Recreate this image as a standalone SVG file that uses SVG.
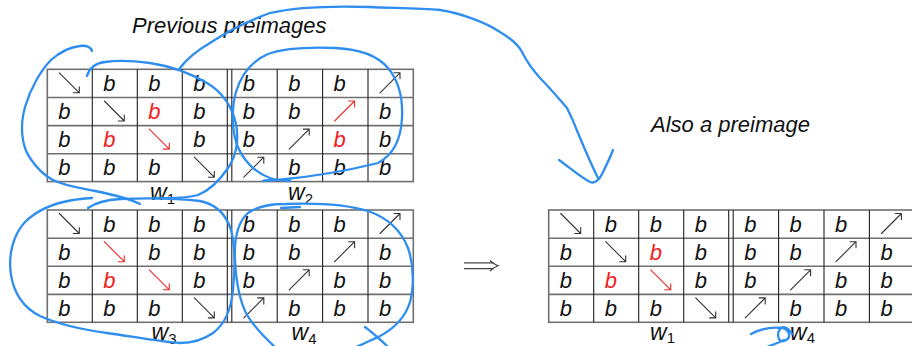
<svg xmlns="http://www.w3.org/2000/svg" width="912" height="346" viewBox="0 0 912 346">
  <style>
    .txt { font-family: "Liberation Sans", Arial, sans-serif; font-style: italic; fill: #111; }
    .title { font-size: 22px; }
    .b { font-family: "Liberation Sans", Arial, sans-serif; font-style: italic; font-size: 22px; fill: #111; }
    .b.red { fill: #f21c1c; }
    .lbl { font-family: "Liberation Sans", Arial, sans-serif; font-style: italic; font-size: 23px; fill: #111; }
    .sub { font-size: 15px; font-style: normal; }
    .ar { fill: none; stroke: #333; stroke-width: 1.1; stroke-linecap: round; }
    .ar.red { stroke: #f22a2a; }
    .hline { stroke: #707070; stroke-width: 1.6; }
    .vline { stroke: #222; stroke-width: 1.1; }
    .border { fill: #fff; stroke: #707070; stroke-width: 1.6; }
    .ink { fill: none; stroke: #2e8ef0; stroke-width: 2.3; stroke-linecap: round; stroke-linejoin: round; }
    .implies { fill: none; stroke: #444; stroke-width: 1.2; }
  </style>
  <defs>
    <!-- 4x8 table frame with a double rule between the two words -->
    <g id="frame">
      <rect class="border" x="0" y="0" width="366" height="112.3"/>
      <path class="hline" d="M0,28.2 H366 M0,56.3 H366 M0,84.4 H366"/>
      <path class="vline" d="M45,0 V112.3 M90,0 V112.3 M135,0 V112.3 M180,0 V112.3 M184.5,0 V112.3 M229.9,0 V112.3 M275.3,0 V112.3 M320.7,0 V112.3"/>
    </g>
    <path id="se" d="M0,0 L20,20 M14,20 L20,20 L20,14"/>
    <path id="ne" d="M0,20 L20,0 M14,0 L20,0 L20,6"/>
  </defs>

  <rect width="912" height="346" fill="#fff"/>

  <text class="txt title" x="132" y="33">Previous preimages</text>
  <text class="txt title" x="651" y="132">Also a preimage</text>

  <!-- table: w1 | w2 -->
  <g id="table-w1-w2" transform="translate(47.3,69.3)">
    <use href="#frame"/>
    <use href="#se" class="ar" x="12" y="3.5"/>
    <text class="b" x="56" y="21.5">b</text><text class="b" x="101" y="21.5">b</text><text class="b" x="146" y="21.5">b</text>
    <text class="b" x="195.5" y="21.5">b</text><text class="b" x="240.9" y="21.5">b</text><text class="b" x="286.3" y="21.5">b</text>
    <use href="#ne" class="ar" x="332.7" y="3.5"/>

    <text class="b" x="11" y="49.7">b</text>
    <use href="#se" class="ar" x="57" y="31.7"/>
    <text class="b red" x="101" y="49.7">b</text><text class="b" x="146" y="49.7">b</text>
    <text class="b" x="195.5" y="49.7">b</text><text class="b" x="240.9" y="49.7">b</text>
    <use href="#ne" class="ar red" x="287.3" y="31.7"/>
    <text class="b" x="331.7" y="49.7">b</text>

    <text class="b" x="11" y="77.8">b</text><text class="b red" x="56" y="77.8">b</text>
    <use href="#se" class="ar red" x="102" y="59.8"/>
    <text class="b" x="146" y="77.8">b</text>
    <text class="b" x="195.5" y="77.8">b</text>
    <use href="#ne" class="ar" x="241.9" y="59.8"/>
    <text class="b red" x="286.3" y="77.8">b</text><text class="b" x="331.7" y="77.8">b</text>

    <text class="b" x="11" y="105.9">b</text><text class="b" x="56" y="105.9">b</text><text class="b" x="101" y="105.9">b</text>
    <use href="#se" class="ar" x="147" y="87.9"/>
    <use href="#ne" class="ar" x="196.5" y="87.9"/>
    <text class="b" x="240.9" y="105.9">b</text><text class="b" x="286.3" y="105.9">b</text><text class="b" x="331.7" y="105.9">b</text>
  </g>
  <g id="labels-w1-w2">
    <text class="lbl" x="150" y="199.5">w<tspan class="sub" dy="4">1</tspan></text>
    <text class="lbl" x="288" y="199.5">w<tspan class="sub" dy="4">2</tspan></text>
  </g>

  <!-- table: w3 | w4 -->
  <g id="table-w3-w4" transform="translate(47.3,210)">
    <use href="#frame"/>
    <use href="#se" class="ar" x="12" y="3.5"/>
    <text class="b" x="56" y="21.5">b</text><text class="b" x="101" y="21.5">b</text><text class="b" x="146" y="21.5">b</text>
    <text class="b" x="195.5" y="21.5">b</text><text class="b" x="240.9" y="21.5">b</text><text class="b" x="286.3" y="21.5">b</text>
    <use href="#ne" class="ar" x="332.7" y="3.5"/>

    <text class="b" x="11" y="49.7">b</text>
    <use href="#se" class="ar red" x="57" y="31.7"/>
    <text class="b" x="101" y="49.7">b</text><text class="b" x="146" y="49.7">b</text>
    <text class="b" x="195.5" y="49.7">b</text><text class="b" x="240.9" y="49.7">b</text>
    <use href="#ne" class="ar" x="287.3" y="31.7"/>
    <text class="b" x="331.7" y="49.7">b</text>

    <text class="b" x="11" y="77.8">b</text><text class="b red" x="56" y="77.8">b</text>
    <use href="#se" class="ar red" x="102" y="59.8"/>
    <text class="b" x="146" y="77.8">b</text>
    <text class="b" x="195.5" y="77.8">b</text>
    <use href="#ne" class="ar" x="241.9" y="59.8"/>
    <text class="b" x="286.3" y="77.8">b</text><text class="b" x="331.7" y="77.8">b</text>

    <text class="b" x="11" y="105.9">b</text><text class="b" x="56" y="105.9">b</text><text class="b" x="101" y="105.9">b</text>
    <use href="#se" class="ar" x="147" y="87.9"/>
    <use href="#ne" class="ar" x="196.5" y="87.9"/>
    <text class="b" x="240.9" y="105.9">b</text><text class="b" x="286.3" y="105.9">b</text><text class="b" x="331.7" y="105.9">b</text>
  </g>
  <g id="labels-w3-w4">
    <text class="lbl" x="151.5" y="340">w<tspan class="sub" dy="3.5">3</tspan></text>
    <text class="lbl" x="291.5" y="340">w<tspan class="sub" dy="3.5">4</tspan></text>
  </g>

  <!-- implication sign -->
  <g id="implies">
    <path class="implies" d="M464,262.8 H494 M464,268.6 H494 M490,260.5 Q494,264.5 498,265.7 Q494,267 490,271"/>
  </g>

  <!-- table: w1 | w4 -->
  <g id="table-w1-w4" transform="translate(548.7,210)">
    <use href="#frame"/>
    <use href="#se" class="ar" x="12" y="3.5"/>
    <text class="b" x="56" y="21.5">b</text><text class="b" x="101" y="21.5">b</text><text class="b" x="146" y="21.5">b</text>
    <text class="b" x="195.5" y="21.5">b</text><text class="b" x="240.9" y="21.5">b</text><text class="b" x="286.3" y="21.5">b</text>
    <use href="#ne" class="ar" x="332.7" y="3.5"/>

    <text class="b" x="11" y="49.7">b</text>
    <use href="#se" class="ar" x="57" y="31.7"/>
    <text class="b red" x="101" y="49.7">b</text><text class="b" x="146" y="49.7">b</text>
    <text class="b" x="195.5" y="49.7">b</text><text class="b" x="240.9" y="49.7">b</text>
    <use href="#ne" class="ar" x="287.3" y="31.7"/>
    <text class="b" x="331.7" y="49.7">b</text>

    <text class="b" x="11" y="77.8">b</text><text class="b red" x="56" y="77.8">b</text>
    <use href="#se" class="ar red" x="102" y="59.8"/>
    <text class="b" x="146" y="77.8">b</text>
    <text class="b" x="195.5" y="77.8">b</text>
    <use href="#ne" class="ar" x="241.9" y="59.8"/>
    <text class="b" x="286.3" y="77.8">b</text><text class="b" x="331.7" y="77.8">b</text>

    <text class="b" x="11" y="105.9">b</text><text class="b" x="56" y="105.9">b</text><text class="b" x="101" y="105.9">b</text>
    <use href="#se" class="ar" x="147" y="87.9"/>
    <use href="#ne" class="ar" x="196.5" y="87.9"/>
    <text class="b" x="240.9" y="105.9">b</text><text class="b" x="286.3" y="105.9">b</text><text class="b" x="331.7" y="105.9">b</text>
  </g>
  <g id="labels-w1-w4">
    <text class="lbl" x="650" y="339.5">w<tspan class="sub" dy="3">1</tspan></text>
    <text class="lbl" x="790" y="339.5">w<tspan class="sub" dy="3">4</tspan></text>
  </g>

  <!-- hand-drawn pen strokes -->
  <g id="connectors">
    <!-- loop round w1, left half -->
    <path class="ink" d="M92,51 C91,47 86,45 80,46 C70,47 60,52 51,60 C40,71 30,90 25,107 C20,125 21,145 30,158 C38,170 45,176 53,180 C65,186 80,188 95,191 C115,195 130,199 140,204"/>
    <!-- loop round w1, right half -->
    <path class="ink" d="M87,76 C89,69 95,63 105,62 C118,60 135,61 150,63 C170,66 190,73 207,83 C222,92 232,106 236,124 C239,140 236,156 228,168 C220,180 210,190 198,195 C185,199 170,198 155,198"/>
    <!-- loop round w3 -->
    <path class="ink" d="M88,208 C95,203 105,200 120,199 C145,198 175,198 200,201 C215,204 226,214 231,230 C235,245 235,270 233,290 C231,310 224,325 213,333 C203,340 193,343 180,343 C160,342 130,336 107,333 C85,330 60,325 40,316 C22,307 14,293 11,275 C8,255 13,235 25,222 C37,210 55,203 73,200 C80,199 86,198 92,198"/>
    <!-- loop round w2 -->
    <path class="ink" d="M263,181 C268,180 272,180 277,180 C310,177 350,170 378,163 C393,155 401,140 402,118 C403,98 398,80 388,68 C377,55 358,49 335,48 C310,47 285,48 268,54 C252,61 241,75 236,92 C231,110 232,130 237,145 C243,160 255,173 270,178 C276,180 282,181 290,181"/>
    <!-- loop round w4 -->
    <path class="ink" d="M275,347 C265,338 255,328 247,315 C239,300 236,280 235,260 C234,240 238,222 248,213 C258,206 272,204 285,204 C310,203 345,204 368,211 C388,218 401,230 408,248 C414,265 414,288 410,302 C405,318 395,328 380,336 C370,341 360,345 352,349"/>
    <path class="ink" d="M281,208 L300,207"/>
    <path class="ink" d="M365,327 C370,331 378,337 388,347"/>
    <!-- long arrow to the right-hand table -->
    <path class="ink" d="M180,68 C186,60 198,50 210,43 C225,33 245,22 270,13 C300,6 340,6 370,7 C390,8 420,8 440,10 C460,13 485,22 500,32 C510,38 518,44 522,52 C526,60 530,67 540,78 C550,88 560,100 567,108 C572,118 575,125 578,133 C583,145 590,162 598,178"/>
    <path class="ink" d="M559,160 C570,168 582,178 590,182 C595,184 599,180 602,174 C606,166 610,158 613,150"/>
    <!-- scribble over w4 -->
    <path class="ink" d="M751,334 C760,329 772,327 782,328 C790,330 792,338 784,341 C778,343 776,333 781,328 C785,325 790,330 792,334 M784,340 C778,343 772,345 767,347"/>
  </g>
</svg>
